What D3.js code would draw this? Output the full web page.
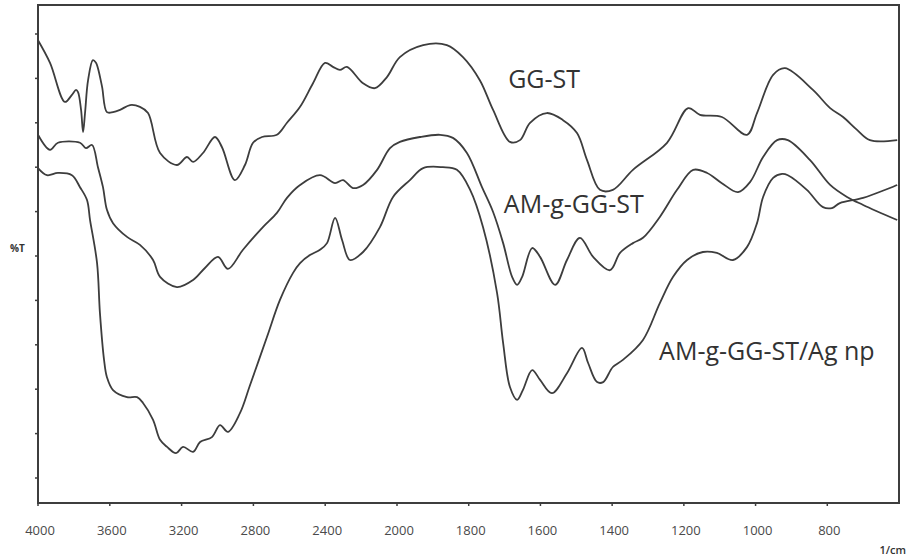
<!DOCTYPE html>
<html>
<head>
<meta charset="utf-8">
<script src="https://cdn.jsdelivr.net/npm/d3@7"></script>
<style>
  body { margin: 0; background: #fff; }
  svg { display: block; font-family: "Open Sans", sans-serif; }
</style>
</head>
<body>
<div class="chart"></div>
<script>
// FTIR spectra, wavenumber (1/cm) vs %T (arbitrary offset units)
const xTicks = [4000, 3600, 3200, 2800, 2400, 2000, 1800, 1600, 1400, 1200, 1000, 800];

const ggstWn = [4000, 3933, 3850, 3811, 3788, 3777, 3760, 3749, 3738, 3721, 3694, 3677, 3666, 3643, 3616, 3582,
  3543, 3487, 3432, 3387, 3320, 3226, 3170, 3136, 3081, 3014, 2975, 2903, 2847, 2802, 2752, 2669, 2613, 2540,
  2468, 2401, 2357, 2318, 2279, 2189, 2123, 2056, 1992, 1927, 1861, 1816, 1769, 1732, 1685, 1657, 1629, 1582,
  1537, 1498, 1470, 1434, 1398, 1342, 1247, 1188, 1155, 1094, 1024, 996, 951, 918, 840, 792, 756, 717, 681, 605];
const ggstT = [98.6, 93.5, 84.7, 86.3, 87.4, 86.9, 82.9, 77.9, 82.2, 89.6, 94.1, 93.5, 92.3, 88.1, 82.4, 82.4,
  82.9, 84.0, 83.6, 82.2, 73.2, 70.5, 72.3, 71.2, 73.2, 76.8, 74.5, 67.1, 70.5, 75.5, 76.8, 77.3, 80.0, 83.6,
  88.9, 93.5, 92.6, 91.9, 92.6, 88.9, 87.8, 90.3, 94.8, 97.5, 97.5, 94.8, 89.6, 82.9, 75.7, 76.1, 80.0, 82.2,
  80.6, 77.7, 71.6, 64.9, 64.9, 69.4, 75.5, 83.3, 81.8, 81.3, 77.3, 82.2, 90.8, 92.3, 87.4, 83.3, 81.3, 78.4, 76.1, 76.1];

const amWn = [4000, 3933, 3889, 3766, 3733, 3699, 3666, 3638, 3616, 3582, 3504, 3432, 3359, 3320, 3226, 3136,
  3070, 2997, 2942, 2858, 2747, 2669, 2613, 2540, 2429, 2345, 2301, 2245, 2189, 2111, 2039, 1992, 1936, 1880,
  1844, 1805, 1763, 1732, 1704, 1679, 1665, 1651, 1623, 1601, 1559, 1526, 1490, 1453, 1406, 1378, 1342, 1314,
  1267, 1219, 1174, 1135, 1094, 1049, 1015, 979, 940, 910, 848, 792, 745, 700, 605];
const amT = [77.3, 73.9, 75.5, 75.5, 74.3, 75.0, 70.0, 65.5, 60.4, 57.4, 54.3, 52.5, 49.1, 45.3, 43.0, 44.6,
  47.3, 49.8, 47.1, 51.4, 56.5, 59.7, 63.1, 66.0, 68.2, 66.4, 67.1, 65.3, 66.0, 69.4, 74.3, 75.7, 76.8, 77.3,
  76.6, 73.2, 65.5, 59.9, 52.9, 45.3, 43.5, 45.3, 51.8, 49.8, 43.5, 49.1, 54.1, 49.8, 46.8, 50.7, 52.9, 54.1,
  58.8, 64.9, 69.4, 68.7, 66.4, 64.4, 66.7, 72.3, 76.1, 76.1, 71.6, 66.0, 63.3, 61.5, 58.1];

const agWn = [4000, 3950, 3889, 3811, 3766, 3727, 3710, 3671, 3655, 3632, 3616, 3582, 3504, 3448, 3415, 3359,
  3320, 3281, 3231, 3192, 3136, 3097, 3031, 2986, 2942, 2875, 2819, 2724, 2652, 2579, 2540, 2485, 2429, 2390,
  2345, 2306, 2262, 2189, 2095, 2022, 1964, 1927, 1872, 1833, 1796, 1760, 1721, 1704, 1685, 1665, 1649, 1623,
  1601, 1568, 1526, 1484, 1467, 1442, 1425, 1398, 1370, 1314, 1267, 1230, 1191, 1147, 1108, 1063, 1024, 996,
  979, 951, 926, 910, 857, 812, 787, 765, 700, 605];
const agT = [69.8, 68.2, 68.7, 68.2, 65.5, 62.6, 58.1, 48.4, 37.2, 26.6, 22.7, 19.8, 18.2, 18.2, 16.9, 13.1,
  8.6, 7.0, 5.6, 7.0, 5.9, 8.1, 9.2, 11.9, 10.4, 14.6, 20.9, 31.8, 40.1, 46.2, 48.4, 50.2, 51.4, 52.9,
  58.6, 53.6, 49.1, 50.9, 56.5, 63.3, 67.1, 69.8, 70.0, 69.4, 64.9, 56.5, 41.7, 30.4, 20.5, 17.6, 19.8, 24.3,
  22.1, 19.1, 23.6, 29.3, 25.9, 21.6, 21.6, 25.0, 26.6, 31.1, 39.4, 45.3, 49.1, 50.9, 50.7, 49.1, 52.0, 57.4,
  63.3, 67.6, 68.5, 68.2, 64.9, 61.0, 60.8, 61.9, 63.1, 66.0];

const seriesNames = ["GG-ST", "AM-g-GG-ST", "AM-g-GG-ST/Ag np"];

const w = 907, h = 558;

const svg = d3.select("div.chart")
  .append("svg")
  .attr("width", w)
  .attr("height", h);

// instrument scale compresses 4000-2000 by a factor of two
const x = d3.scaleLinear()
  .domain([4000, 2000, 600])
  .range([38, 397, 899]);

const y = d3.scaleLinear()
  .domain([0, 100])
  .range([478, 34]);

const yTop = y.invert(5), yBot = y.invert(503);
const ink = "#3d3d3d";

// frame
svg.append("rect")
  .attr("x", x(4000))
  .attr("y", y(yTop))
  .attr("width", x(600) - x(4000))
  .attr("height", y(yBot) - y(yTop))
  .attr("fill", "none")
  .attr("stroke", ink)
  .attr("stroke-width", 2);

// x ticks + labels
const xAxis = svg.append("g");
xAxis.selectAll("line")
  .data(xTicks)
  .enter()
  .append("line")
  .attr("x1", d => x(d)).attr("x2", d => x(d))
  .attr("y1", y(yBot)).attr("y2", y(yBot) + 3)
  .attr("stroke", ink)
  .attr("stroke-width", 1.5);
xAxis.selectAll("text")
  .data(xTicks)
  .enter()
  .append("text")
  .attr("x", d => x(d) + 2)
  .attr("y", 535)
  .attr("text-anchor", "middle")
  .attr("font-size", "13px")
  .attr("fill", "#4a4a4a")
  .text(d => d);

svg.append("text")
  .attr("x", 906)
  .attr("y", 554)
  .attr("text-anchor", "end")
  .attr("font-size", "11px")
  .attr("font-weight", "600")
  .attr("fill", "#333")
  .text("1/cm");

// y ticks (no values on this axis)
svg.append("g").selectAll("line")
  .data(d3.range(0, 101, 10))
  .enter()
  .append("line")
  .attr("x1", x(4000) - 3).attr("x2", x(4000))
  .attr("y1", d => y(d)).attr("y2", d => y(d))
  .attr("stroke", ink)
  .attr("stroke-width", 1.5);

svg.append("text")
  .attr("x", 10)
  .attr("y", 252)
  .attr("font-size", "10px")
  .attr("font-weight", "700")
  .attr("fill", "#333")
  .text("%T");

// spectra
const line = d3.line()
  .x(d => x(d[0]))
  .y(d => y(d[1]))
  .curve(d3.curveCatmullRom.alpha(0.5));

const series = [
  d3.zip(ggstWn, ggstT),
  d3.zip(amWn, amT),
  d3.zip(agWn, agT)
];

svg.append("g").selectAll("path")
  .data(series)
  .enter()
  .append("path")
  .attr("d", line)
  .attr("fill", "none")
  .attr("stroke", ink)
  .attr("stroke-width", 1.8);

// curve labels: [wavenumber at text start, %T at baseline]
const labelWn = [1690, 1702, 1269];
const labelT = [87.8, 59.7, 26.6];
svg.append("g").selectAll("text")
  .data(seriesNames)
  .enter()
  .append("text")
  .attr("x", (d, i) => x(labelWn[i]))
  .attr("y", (d, i) => y(labelT[i]))
  .attr("font-size", "25px")
  .attr("fill", "#333")
  .text(d => d);
</script>
</body>
</html>
